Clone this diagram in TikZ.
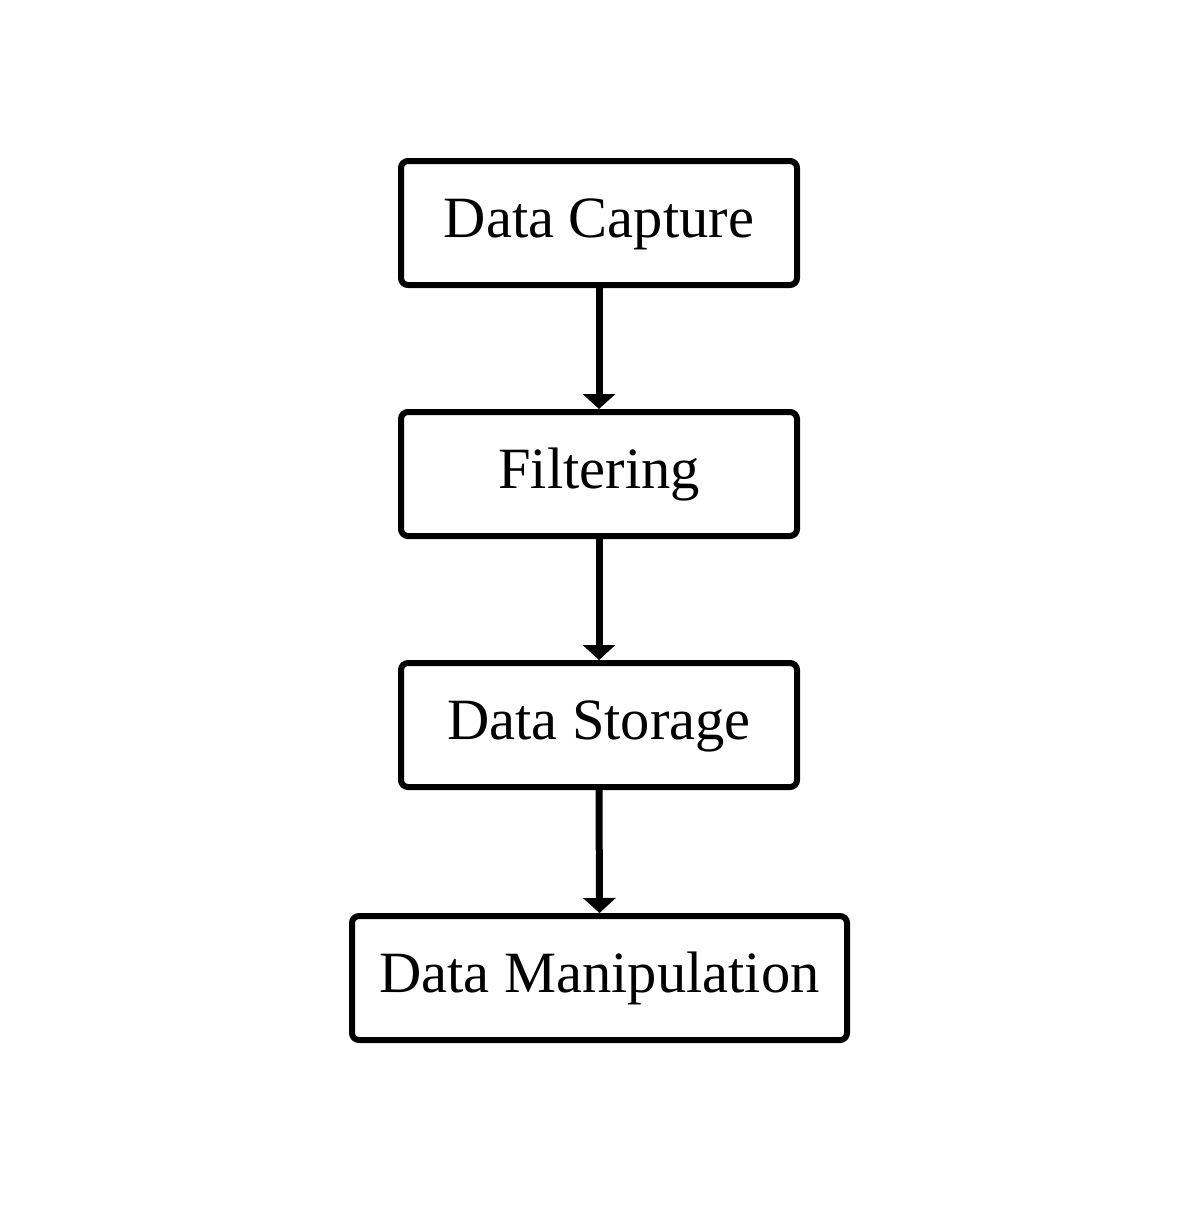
\documentclass[tikz,border=0pt]{standalone}
\usepackage{fontspec}
\setmainfont{Liberation Serif}
\usetikzlibrary{arrows.meta}
\begin{document}
\begin{tikzpicture}[x=1pt,y=1pt,
  stagebox/.style={draw=black, line width=6pt, rounded corners=7pt, fill=white,
    minimum height=124pt, inner sep=0pt, align=center,
    text height=38pt, text depth=10pt,
    font=\fontsize{58.5}{70}\selectfont},
  flowarrow/.style={draw=black, line width=7pt, -{Triangle[width=32pt,length=15pt]}}]
\useasboundingbox[fill=white] (0,0) rectangle (1200,-1228);
\node[stagebox, minimum width=396pt] (cap) at (599,-223) {Data Capture};
\node[stagebox, minimum width=396pt] (fil) at (599,-474) {Filtering};
\node[stagebox, minimum width=396pt] (sto) at (599,-725) {Data Storage};
\node[stagebox, minimum width=495pt] (man) at (599.5,-978) {Data Manipulation};
\draw[flowarrow] (cap.south) -- (fil.north);
\draw[flowarrow] (fil.south) -- (sto.north);
\draw[flowarrow] (sto.south) -- (man.north);
\end{tikzpicture}
\end{document}
